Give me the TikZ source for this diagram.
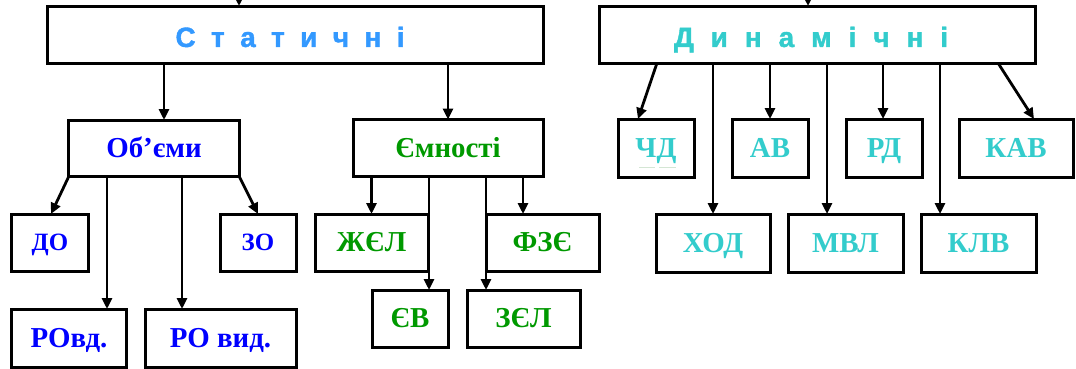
\documentclass[tikz,border=0pt]{standalone}
\usepackage{fontspec}
\setmainfont{Liberation Serif}
\newfontfamily\headfont[BoldFeatures={FakeBold=1.5}]{Liberation Sans}
\usetikzlibrary{arrows.meta}

\definecolor{statblue}{HTML}{3399FF}
\definecolor{dyncyan}{HTML}{33CCCC}
\definecolor{objblue}{HTML}{0000FF}
\definecolor{emngreen}{HTML}{009900}
\definecolor{faintline}{HTML}{D4E6D4}

\tikzset{
  box/.style={draw=black, line width=3bp, fill=white, inner sep=0pt, outer sep=0pt,
    font=\bfseries\fontsize{29}{32}\selectfont, text height=19pt, text depth=0pt},
  small/.style={font=\bfseries\fontsize{25}{28}\selectfont, text height=16.5pt},
  frame/.style={draw=black, line width=3bp, fill=white, inner sep=0pt, outer sep=0pt},
  headtext/.style={inner sep=0pt, font=\headfont\bfseries\fontsize{28}{30}\selectfont,
    text height=20pt, text depth=0pt},
  arr/.style={draw=black, line width=2.8bp, -{Triangle[length=11bp,width=10bp]}},
}

\begin{document}
\begin{tikzpicture}[x=1bp, y=-1bp]
\clip (0,0) rectangle (1076,368);
\fill[white] (0,0) rectangle (1076,368);

% top level frames and their spaced titles
\node[frame, minimum width=495bp, minimum height=57bp] (stat) at (295.5,34.5) {};
\node[headtext, text=statblue] (statt) at (290,37) {\spaceskip=15.5pt С т а т и ч н і};
\node[frame, minimum width=436bp, minimum height=57bp] (dyn) at (817,34.5) {};
\node[headtext, text=dyncyan] (dynt) at (811,37) {\spaceskip=17pt Д и н а м і ч н і};

% static branch
\node[box, text=objblue, minimum width=170bp, minimum height=56bp] (obj) at (154,148) {Об’єми};
\node[box, text=emngreen, minimum width=190bp, minimum height=57bp] (emn) at (448,148) {Ємності};

\node[box, small, text=objblue, minimum width=76bp, minimum height=57bp] (do) at (50,242.5) {ДО};
\node[box, small, text=objblue, minimum width=76bp, minimum height=57bp] (zo) at (258,242.5) {ЗО};
\node[box, text=objblue, minimum width=114bp, minimum height=58bp] (rovd) at (69,338) {РОвд.};
\node[box, text=objblue, minimum width=151bp, minimum height=58bp] (rovyd) at (220.5,338) {РО вид.};

\node[box, text=emngreen, minimum width=113bp, minimum height=57bp] (zhel) at (371.5,242.5) {ЖЄЛ};
\node[box, text=emngreen, minimum width=113bp, minimum height=57bp] (fze) at (542.5,242.5) {ФЗЄ};
\node[box, text=emngreen, minimum width=76bp, minimum height=57bp] (yev) at (410,318.5) {ЄВ};
\node[box, text=emngreen, minimum width=113bp, minimum height=57bp] (zel) at (523.5,318.5) {ЗЄЛ};

% dynamic branch
\node[box, text=dyncyan, minimum width=76bp, minimum height=58bp] (chd) at (656,148) {ЧД};
\node[box, text=dyncyan, minimum width=76bp, minimum height=58bp] (av) at (770,148) {АВ};
\node[box, text=dyncyan, minimum width=76bp, minimum height=58bp] (rd) at (884,148) {РД};
\node[box, text=dyncyan, minimum width=114bp, minimum height=58bp] (kav) at (1016,148) {КАВ};
\node[box, text=dyncyan, minimum width=114bp, minimum height=58bp] (khod) at (713,243) {ХОД};
\node[box, text=dyncyan, minimum width=115bp, minimum height=58bp] (mvl) at (845.5,243) {МВЛ};
\node[box, text=dyncyan, minimum width=115bp, minimum height=58bp] (klv) at (978.5,243) {КЛВ};

% faint underline under ЧД
\draw[faintline, line width=0.8bp] ([xshift=-17bp,yshift=-19bp]chd.center) -- ++(16,0)
  ([xshift=3bp,yshift=-19bp]chd.center) -- ++(17,0);

% incoming arrows from above
\coordinate (statin) at (239,-20);
\coordinate (dynin) at (808,-20);
\draw[arr] (statin) -- (statin |- stat.north);
\draw[arr] (dynin) -- (dynin |- dyn.north);

% static connectors
\draw[arr] ([xshift=10bp]obj.north |- stat.south) -- ([xshift=10bp]obj.north);
\draw[arr] (emn.north |- stat.south) -- (emn.north);

\draw[arr] (obj.south west) -- ([xshift=1bp]do.north);
\draw[arr] ([xshift=38bp]rovd.north |- obj.south) -- ([xshift=38bp]rovd.north);
\draw[arr] ([xshift=-38.5bp]rovyd.north |- obj.south) -- ([xshift=-38.5bp]rovyd.north);
\draw[arr] (obj.south east) -- (zo.north);

\draw[arr] (zhel.north |- emn.south) -- (zhel.north);
\draw[arr] ([xshift=19bp]yev.north |- emn.south) -- ([xshift=19bp]yev.north);
\draw[arr] ([xshift=-37.5bp]zel.north |- emn.south) -- ([xshift=-37.5bp]zel.north);
\draw[arr] ([xshift=-19.5bp]fze.north |- emn.south) -- ([xshift=-19.5bp]fze.north);

% dynamic connectors
\draw[arr] ([xshift=58bp]dyn.south west) -- ([xshift=-18bp]chd.north);
\draw[arr] (khod.north |- dyn.south) -- (khod.north);
\draw[arr] (av.north |- dyn.south) -- (av.north);
\draw[arr] ([xshift=-18.5bp]mvl.north |- dyn.south) -- ([xshift=-18.5bp]mvl.north);
\draw[arr] ([xshift=-1bp]rd.north |- dyn.south) -- ([xshift=-1bp]rd.north);
\draw[arr] ([xshift=-38.5bp]klv.north |- dyn.south) -- ([xshift=-38.5bp]klv.north);
\draw[arr] ([xshift=-37bp]dyn.south east) -- ([xshift=18bp]kav.north);
\end{tikzpicture}
\end{document}
